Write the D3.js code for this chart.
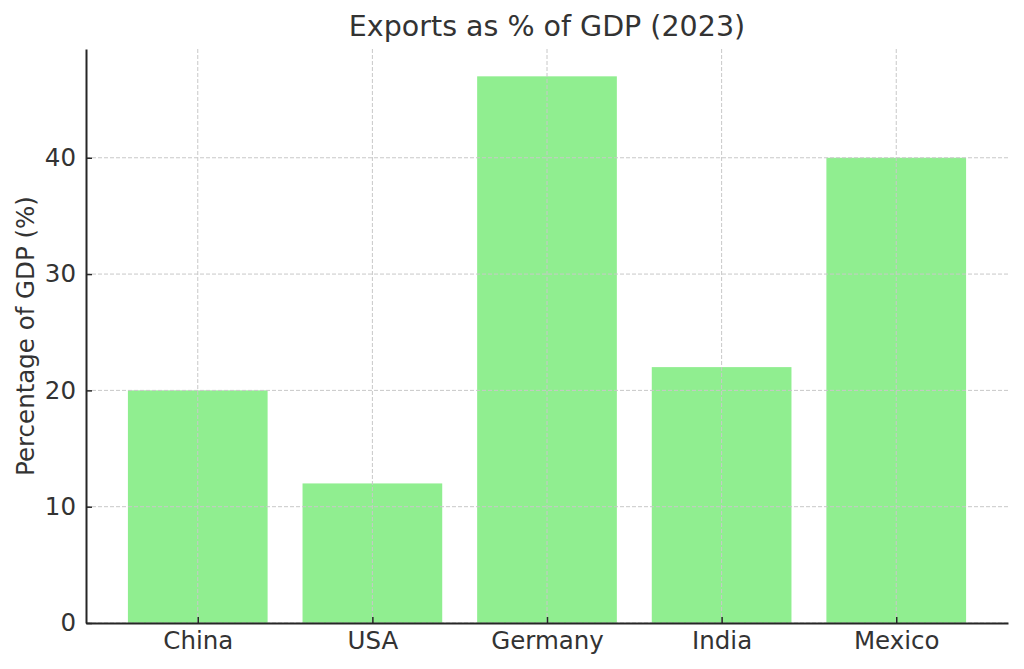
<!DOCTYPE html>
<html>
<head>
  <meta charset="utf-8">
  <title>Exports as % of GDP</title>
  <style>
    body { margin: 0; background: #fff; }
    text { font-family: "DejaVu Sans", sans-serif; fill: #333; }
    .title { font-size: 28.5px; text-anchor: middle; }
    .ylabel { font-size: 24.5px; text-anchor: middle; }
  </style>
  <script src="https://d3js.org/d3.v7.min.js"></script>
</head>
<body>
  <script>
    var countries = ["China", "USA", "Germany", "India", "Mexico"];
    var exportShare = [20, 12, 47, 22, 40];
    var yTicks = [0, 10, 20, 30, 40];

    var width = 1024;
    var height = 669;
    var margin = {left: 86, right: 16, top: 49, bottom: 46};

    var svg = d3.select('body')
      .append('svg')
      .attr('width', width)
      .attr('height', height);

    // matplotlib-like limits: bars at 0..4, width 0.8, 5% margins
    var x = d3.scaleLinear()
      .domain([-0.64, 4.64])
      .range([margin.left, width - margin.right]);
    var y = d3.scaleLinear()
      .domain([0, d3.max(exportShare) * 1.05])
      .range([height - margin.bottom, margin.top]);

    var g = svg.append('g');

    // bars
    g.selectAll('rect.bar')
      .data(exportShare)
      .enter()
      .append('rect')
      .attr('class', 'bar')
      .attr('x', (d, i) => x(i - 0.4))
      .attr('width', (d, i) => x(i + 0.4) - x(i - 0.4))
      .attr('y', d => y(d))
      .attr('height', d => y(0) - y(d))
      .attr('fill', '#90ee90');

    // grid (drawn above bars)
    g.selectAll('line.hgrid')
      .data(yTicks)
      .enter()
      .append('line')
      .attr('x1', x.range()[0]).attr('x2', x.range()[1])
      .attr('y1', d => y(d)).attr('y2', d => y(d))
      .attr('stroke', '#c8c8c8').attr('stroke-width', 1)
      .attr('stroke-dasharray', '4,2');
    g.selectAll('line.vgrid')
      .data(countries)
      .enter()
      .append('line')
      .attr('x1', (d, i) => x(i)).attr('x2', (d, i) => x(i))
      .attr('y1', y.range()[0]).attr('y2', y.range()[1])
      .attr('stroke', '#c8c8c8').attr('stroke-width', 1)
      .attr('stroke-dasharray', '4,2');

    // axes
    var yAxis = d3.axisLeft(y).tickValues(yTicks).tickSizeInner(-6).tickSizeOuter(0).tickPadding(10);
    var xAxis = d3.axisBottom(x).tickValues(d3.range(countries.length))
      .tickFormat(i => countries[i]).tickSizeInner(-6).tickSizeOuter(0).tickPadding(9);

    var ya = svg.append('g')
      .attr('transform', 'translate(' + margin.left + ',0)')
      .call(yAxis);
    var xa = svg.append('g')
      .attr('transform', 'translate(0,' + (height - margin.bottom) + ')')
      .call(xAxis);

    [ya, xa].forEach(function(a) {
      a.select('.domain').attr('stroke', '#262626').attr('stroke-width', 2);
      a.selectAll('.tick line').attr('stroke', '#262626').attr('stroke-width', 1.5);
      a.selectAll('.tick text').attr('fill', '#333')
        .style('font-size', '24.5px').style('font-family', '"DejaVu Sans", sans-serif');
    });

    // title
    svg.append('text')
      .attr('class', 'title')
      .attr('x', (x.range()[0] + x.range()[1]) / 2)
      .attr('y', 36)
      .text('Exports as % of GDP (2023)');

    // y label
    svg.append('text')
      .attr('class', 'ylabel')
      .attr('transform', 'translate(34,' + ((y.range()[0] + y.range()[1]) / 2) + ') rotate(-90)')
      .text('Percentage of GDP (%)');
  </script>
</body>
</html>
